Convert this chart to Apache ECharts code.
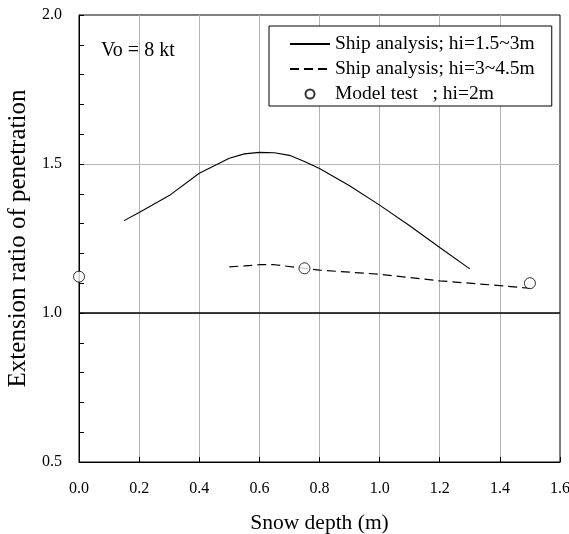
<!DOCTYPE html>
<html>
<head>
<meta charset="utf-8">
<script src="https://cdn.jsdelivr.net/npm/echarts@6/dist/echarts.min.js"></script>
<style>html,body{margin:0;padding:0;background:#fff}#c{width:569px;height:534px}</style>
</head>
<body>
<div id="c"></div>
<script>
// Data
const solidX = [0.15, 0.2, 0.3, 0.4, 0.5, 0.55, 0.6, 0.65, 0.7, 0.75, 0.8, 0.9, 1.0, 1.1, 1.2, 1.3];
const solidY = [1.31, 1.337, 1.394, 1.469, 1.519, 1.534, 1.539, 1.538, 1.529, 1.508, 1.485, 1.427, 1.362, 1.293, 1.220, 1.148];
const dashX = [0.5, 0.55, 0.6, 0.65, 0.75, 0.8, 1.0, 1.2, 1.4, 1.5];
const dashY = [1.155, 1.158, 1.162, 1.162, 1.150, 1.144, 1.130, 1.108, 1.092, 1.083];
const modelX = [0.0, 0.75, 1.5];
const modelY = [1.122, 1.150, 1.100];
const refLineX = [0.0, 1.6];
const refLineY = [1.0, 1.0];
const seriesNames = ['Ship analysis; hi=1.5~3m', 'Ship analysis; hi=3~4.5m', 'Model test   ; hi=2m'];
const xTicks = [0, 0.2, 0.4, 0.6, 0.8, 1.0, 1.2, 1.4, 1.6];
const yTicks = [0.5, 1.0, 1.5, 2.0];

const zip = (a, b) => a.map((v, i) => [v, b[i]]);
const FONT = "'Liberation Serif', 'Times New Roman', serif";

const chart = echarts.init(document.getElementById('c'), null, {renderer: 'canvas'});
chart.setOption({
  animation: false,
  backgroundColor: '#fff',
  textStyle: {fontFamily: FONT, color: '#000'},
  title: {
    text: 'Vo = 8 kt', left: 96, top: 36,
    textStyle: {fontFamily: FONT, fontSize: 20, fontWeight: 'normal', color: '#000'}
  },
  grid: {left: 79, right: 9, top: 15, bottom: 72, outerBoundsMode: 'none', containLabel: false,
    show: true, borderColor: '#000', borderWidth: 1, backgroundColor: 'transparent'},
  legend: {
    data: [
      {name: seriesNames[0], itemStyle: {opacity: 0}},
      {name: seriesNames[1], itemStyle: {opacity: 0}},
      {name: seriesNames[2]}
    ],
    orient: 'vertical',
    left: 269, top: 26,
    backgroundColor: '#fff',
    borderColor: '#000', borderWidth: 1,
    padding: [8, 17, 2, 20],
    itemWidth: 40, itemHeight: 9, itemGap: 5,
    textStyle: {fontFamily: FONT, fontSize: 19.5, color: '#000', lineHeight: 20}
  },
  xAxis: {
    type: 'value', min: xTicks[0], max: xTicks[xTicks.length - 1], interval: 0.2,
    name: 'Snow depth (m)', nameLocation: 'middle', nameGap: 50,
    nameTextStyle: {fontFamily: FONT, fontSize: 21.5, color: '#000'},
    axisLine: {show: true, lineStyle: {color: '#000', width: 1}},
    axisTick: {show: true, inside: true, length: 5, lineStyle: {color: '#000'}},
    axisLabel: {fontFamily: FONT, fontSize: 16, color: '#000', margin: 19, formatter: v => v.toFixed(1)},
    splitLine: {show: true, showMinLine: false, showMaxLine: false, lineStyle: {color: '#b4b4b4', width: 1}}
  },
  yAxis: {
    type: 'value', min: yTicks[0], max: yTicks[yTicks.length - 1], interval: 0.5,
    name: 'Extension ratio of penetration', nameLocation: 'middle', nameGap: 41,
    nameTextStyle: {fontFamily: FONT, fontSize: 25, color: '#000'},
    axisLine: {show: true, lineStyle: {color: '#000', width: 1}},
    axisTick: {show: true, inside: true, length: 5, lineStyle: {color: '#000'}},
    minorTick: {show: true, splitNumber: 5, length: 5, lineStyle: {color: '#000'}},
    axisLabel: {fontFamily: FONT, fontSize: 16, color: '#000', margin: 17, formatter: v => v.toFixed(1)},
    splitLine: {show: true, showMinLine: false, showMaxLine: false, lineStyle: {color: '#b4b4b4', width: 1}}
  },
  series: [
    {
      name: 'ref', type: 'line', data: zip(refLineX, refLineY), symbol: 'none', silent: true,
      lineStyle: {color: '#000', width: 1.5}, z: 3
    },
    {
      name: seriesNames[0], type: 'line', data: zip(solidX, solidY), symbol: 'none', showSymbol: false,
      lineStyle: {color: '#000', width: 1.1, type: 'solid'}, itemStyle: {color: '#000'}
    },
    {
      name: seriesNames[1], type: 'line', data: zip(dashX, dashY), symbol: 'none', showSymbol: false,
      lineStyle: {color: '#000', width: 1.2, type: [9, 5]}, itemStyle: {color: '#000'}
    },
    {
      name: seriesNames[2], type: 'scatter', data: zip(modelX, modelY), symbol: 'circle', symbolSize: 11, clip: false,
      itemStyle: {color: '#fff', borderColor: '#000', borderWidth: 1}, z: 5
    }
  ]
});
</script>
</body>
</html>
